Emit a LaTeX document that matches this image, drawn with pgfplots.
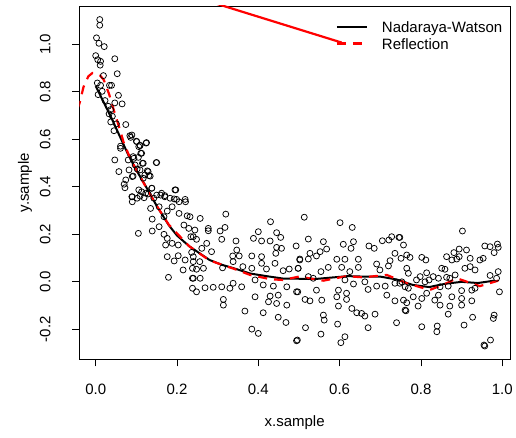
\documentclass[border=0pt]{standalone}
\usepackage{pgfplots}
\pgfplotsset{compat=1.18}
\usepackage{pgfplotstable}
\usepackage{fontspec}
\setmainfont{Liberation Sans}

\pgfplotstableread{
x y
0.010 1.104
0.010 1.080
0.002 1.027
0.008 1.004
0.021 0.990
0.047 0.939
0.000 0.952
0.005 0.935
0.012 0.928
0.011 0.912
0.053 0.876
0.019 0.868
0.004 0.837
0.012 0.827
0.034 0.827
0.039 0.827
0.006 0.788
0.016 0.802
0.056 0.785
0.023 0.763
0.047 0.753
0.065 0.749
0.031 0.739
0.037 0.725
0.033 0.707
0.041 0.697
0.037 0.673
0.051 0.665
0.074 0.662
0.045 0.636
0.084 0.615
0.086 0.608
0.100 0.592
0.124 0.584
0.109 0.575
0.061 0.571
0.089 0.618
0.101 0.590
0.109 0.573
0.125 0.586
0.113 0.541
0.092 0.527
0.105 0.524
0.150 0.502
0.117 0.499
0.097 0.492
0.109 0.471
0.129 0.464
0.121 0.450
0.092 0.445
0.134 0.445
0.117 0.436
0.138 0.394
0.113 0.379
0.195 0.387
0.109 0.361
0.129 0.370
0.150 0.365
0.162 0.373
0.170 0.358
0.183 0.352
0.199 0.347
0.220 0.347
0.089 0.358
0.061 0.562
0.106 0.569
0.111 0.541
0.094 0.520
0.047 0.513
0.080 0.513
0.115 0.499
0.149 0.502
0.057 0.464
0.082 0.471
0.102 0.475
0.127 0.467
0.090 0.443
0.074 0.429
0.070 0.411
0.072 0.396
0.131 0.447
0.106 0.387
0.123 0.373
0.138 0.394
0.090 0.358
0.090 0.337
0.102 0.352
0.119 0.354
0.143 0.352
0.160 0.365
0.170 0.363
0.197 0.387
0.193 0.349
0.205 0.337
0.221 0.337
0.135 0.309
0.156 0.316
0.188 0.316
0.176 0.298
0.205 0.288
0.225 0.278
0.139 0.264
0.168 0.274
0.156 0.232
0.139 0.214
0.105 0.204
0.168 0.200
0.176 0.183
0.172 0.155
0.188 0.162
0.203 0.155
0.217 0.239
0.229 0.225
0.234 0.190
0.176 0.106
0.193 0.088
0.203 0.110
0.220 0.092
0.215 0.050
0.238 0.057
0.238 0.015
0.238 -0.027
0.179 0.019
0.236 0.124
0.320 0.285
0.257 0.267
0.232 0.274
0.430 0.253
0.277 0.225
0.277 0.215
0.306 0.214
0.318 0.229
0.400 0.211
0.445 0.207
0.244 0.218
0.240 0.190
0.248 0.179
0.310 0.179
0.345 0.172
0.388 0.183
0.408 0.172
0.429 0.172
0.455 0.187
0.273 0.162
0.261 0.141
0.285 0.127
0.347 0.134
0.445 0.145
0.457 0.141
0.493 0.151
0.337 0.109
0.353 0.109
0.384 0.109
0.408 0.106
0.443 0.120
0.240 0.106
0.240 0.085
0.256 0.085
0.265 0.057
0.248 0.053
0.312 0.059
0.338 0.085
0.362 0.064
0.384 0.057
0.408 0.078
0.420 0.054
0.441 0.078
0.461 0.047
0.476 0.054
0.502 0.092
0.498 0.057
0.240 0.015
0.257 0.015
0.269 -0.025
0.289 -0.023
0.310 -0.021
0.330 -0.027
0.338 -0.006
0.359 -0.021
0.392 0.008
0.412 -0.013
0.437 -0.018
0.470 -0.021
0.248 -0.042
0.392 -0.063
0.429 -0.060
0.449 -0.056
0.494 -0.042
0.314 -0.074
0.314 -0.098
0.425 -0.084
0.445 -0.091
0.470 -0.098
0.412 -0.130
0.367 -0.123
0.449 -0.149
0.468 -0.171
0.384 -0.199
0.400 -0.217
0.494 -0.248
0.513 0.272
0.601 0.249
0.631 0.229
0.523 0.180
0.560 0.169
0.634 0.169
0.609 0.158
0.628 0.141
0.672 0.151
0.685 0.141
0.705 0.173
0.728 0.190
0.746 0.187
0.721 0.176
0.568 0.138
0.552 0.127
0.527 0.120
0.543 0.109
0.523 0.096
0.502 0.096
0.593 0.095
0.613 0.095
0.646 0.095
0.691 0.075
0.736 0.120
0.724 0.089
0.751 0.099
0.699 0.050
0.720 0.067
0.554 0.043
0.572 0.061
0.605 0.061
0.625 0.043
0.646 0.061
0.498 0.057
0.523 0.022
0.535 0.015
0.613 0.008
0.634 -0.009
0.662 0.000
0.691 -0.018
0.712 -0.018
0.736 -0.006
0.753 0.000
0.497 -0.042
0.543 -0.035
0.597 -0.035
0.617 -0.048
0.670 -0.032
0.716 -0.056
0.515 -0.074
0.527 -0.080
0.556 -0.077
0.593 -0.063
0.617 -0.074
0.736 -0.080
0.597 -0.102
0.630 -0.112
0.642 -0.130
0.654 -0.133
0.662 -0.144
0.560 -0.140
0.562 -0.161
0.687 -0.136
0.761 -0.119
0.595 -0.178
0.670 -0.193
0.740 -0.172
0.516 -0.193
0.554 -0.220
0.613 -0.231
0.603 -0.256
0.496 -0.245
0.902 0.214
0.957 0.151
0.970 0.148
0.988 0.159
0.990 0.145
0.980 0.123
0.894 0.138
0.912 0.134
0.881 0.123
0.863 0.106
0.876 0.092
0.888 0.096
0.894 0.106
0.921 0.099
0.945 0.092
0.953 0.099
0.921 0.064
0.908 0.057
0.933 0.050
0.990 0.043
0.970 0.027
0.986 0.015
0.802 0.103
0.812 0.092
0.765 0.113
0.773 0.103
0.757 0.155
0.748 0.187
0.851 0.057
0.859 0.053
0.871 0.015
0.884 0.029
0.814 0.038
0.830 0.022
0.798 0.022
0.765 0.057
0.769 0.036
0.789 0.008
0.810 0.000
0.820 0.008
0.843 0.015
0.863 0.019
0.761 -0.021
0.769 -0.027
0.748 -0.006
0.847 -0.021
0.867 -0.018
0.900 -0.037
0.925 -0.035
0.933 -0.027
0.993 -0.042
0.814 -0.048
0.843 -0.056
0.781 -0.063
0.802 -0.070
0.834 -0.077
0.876 -0.063
0.900 -0.070
0.757 -0.077
0.765 -0.088
0.793 -0.102
0.847 -0.098
0.871 -0.102
0.900 -0.098
0.925 -0.080
0.763 -0.122
0.867 -0.136
0.927 -0.149
0.980 -0.140
0.978 -0.154
0.802 -0.189
0.840 -0.186
0.906 -0.182
0.839 -0.210
0.971 -0.245
0.955 -0.266
0.957 -0.270
}\samples

\pgfplotstableread{
x y
0.00 0.824
0.02 0.755
0.04 0.685
0.06 0.610
0.08 0.535
0.10 0.470
0.12 0.412
0.15 0.320
0.18 0.238
0.20 0.195
0.23 0.150
0.26 0.115
0.28 0.092
0.31 0.072
0.34 0.057
0.38 0.035
0.42 0.024
0.46 0.014
0.50 0.013
0.54 0.012
0.58 0.018
0.62 0.024
0.66 0.022
0.70 0.022
0.74 0.010
0.78 -0.013
0.82 -0.022
0.86 -0.008
0.90 0.000
0.94 -0.005
0.98 0.005
}\nw

\pgfplotstableread{
x y
-0.045 0.725
-0.040 0.750
-0.030 0.820
-0.018 0.865
-0.008 0.879
0.000 0.878
0.010 0.870
0.020 0.850
0.033 0.790
0.045 0.720
0.057 0.655
0.070 0.580
0.080 0.540
0.100 0.470
0.120 0.410
0.150 0.320
0.180 0.240
0.230 0.150
0.280 0.090
0.340 0.055
0.380 0.029
0.430 0.011
0.460 0.008
0.500 0.022
0.560 0.005
0.617 0.024
0.658 0.019
0.716 0.029
0.765 -0.006
0.822 -0.034
0.863 -0.006
0.888 0.015
0.945 -0.018
0.990 0.005
}\refl

\pgfplotstableread{
x y
0.200 1.222
0.605 1.007
}\redline

\begin{document}
\begin{tikzpicture}
\path[use as bounding box] (-79.3pt,-78.7pt) rectangle (436.7pt,359.3pt);
\begin{axis}[
  scale only axis,
  width=430.7pt, height=353.3pt,
  xmin=-0.0403, xmax=1.019,
  ymin=-0.326, ymax=1.161,
  axis line style={line width=0.8pt},
  tick align=outside,
  major tick length=7pt,
  tick style={line width=0.8pt, black},
  xtick pos=bottom, ytick pos=left,
  xtick={0,0.2,0.4,0.6,0.8,1.0},
  xticklabels={0.0,0.2,0.4,0.6,0.8,1.0},
  ytick={-0.2,0,0.2,0.4,0.6,0.8,1.0},
  yticklabels={-0.2,0.0,0.2,0.4,0.6,0.8,1.0},
  every x tick label/.style={anchor=base, yshift=-28pt},
  every y tick label/.style={xshift=-22pt, rotate=90, anchor=base},
  font=\fontsize{15}{18}\selectfont,
  every axis x label/.style={at={(axis description cs:0.5,0)}, yshift=-67pt, anchor=base},
  every axis y label/.style={at={(axis description cs:0,0.5)}, xshift=-50.5pt, rotate=90, anchor=base},
  xlabel={x.sample}, ylabel={y.sample},
  legend style={at={(axis description cs:0.595,0.963)}, anchor=north west, draw=none, fill=none,
    font=\fontsize{15}{18}\selectfont, row sep=2pt, inner sep=0pt,
    nodes={inner sep=2pt, text depth=0pt},
    /tikz/every odd column/.style={column sep=12pt}},
  legend cell align=left,
  legend image code/.code={\draw[#1] (0pt,0pt) -- (30pt,0pt);},
  clip=true,
]
\addplot[only marks, mark=o, mark size=3pt, mark options={line width=0.75pt, black}, forget plot] table[x=x,y=y] {\samples};
\addplot[red, line width=2.2pt, forget plot] table[x=x,y=y] {\redline};
\addplot[black, line width=2pt] table[x=x,y=y] {\nw};
\addlegendentry{Nadaraya-Watson}
\addplot[red, line width=2.2pt, dash pattern=on 9pt off 7pt] table[x=x,y=y] {\refl};
\addlegendentry{Reflection}
\end{axis}
\end{tikzpicture}
\end{document}
